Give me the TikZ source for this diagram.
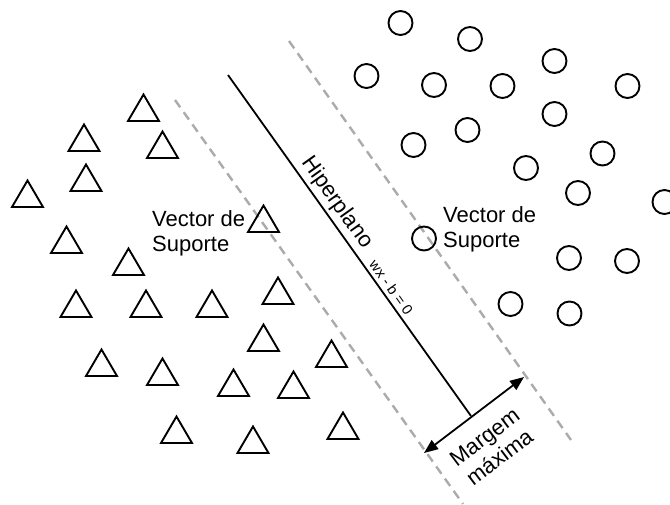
\documentclass[tikz,border=0pt]{standalone}
\usepackage{fontspec}
\setmainfont{Liberation Sans}
\usetikzlibrary{arrows.meta,calc}
\begin{document}
\begin{tikzpicture}[x=1pt,y=-1pt,
  pt/.style={draw=black,line width=1.9pt,line join=miter},
  margin/.style={draw=black!33,line width=2.4pt,dash pattern=on 9pt off 6pt},
  hyper/.style={draw=black,line width=1.8pt},
  lbl/.style={font=\fontsize{22}{25}\selectfont,inner sep=0pt,align=left},
  eqlbl/.style={font=\fontsize{14.5}{16}\selectfont},
  arr/.style={draw=black,line width=1.8pt,{Triangle[length=14pt,width=11pt]}-{Triangle[length=14pt,width=11pt]}}
]
\useasboundingbox (0,0) rectangle (670,504);
\clip (0,0) rectangle (670,504);
% margin lines
\coordinate (ltop) at (175,100);
\coordinate (lbot) at (463,504);
\coordinate (rtop) at (289,41);
\coordinate (rbot) at (571,440);
\draw[margin] (ltop) -- (lbot);
\draw[margin] (rtop) -- (rbot);
% hyperplane
\coordinate (htop) at (228,75);
\coordinate (hbot) at (471,416);
\draw[hyper] (htop) -- node[sloped,above,pos=0.40,font=\fontsize{22}{25}\selectfont] {Hiperplano}
  node[sloped,above,pos=0.64,eqlbl] {wx - b = 0} (hbot);
% margin arrow
\coordinate (aL) at (424,453);
\coordinate (aR) at (524,377);
\draw[arr] (aL) -- (aR);
\node[rotate=37,align=center,font=\fontsize{22}{25}\selectfont,inner sep=0pt] (mm) at (492,447) {Margem\\máxima};
% triangles (base centre)
\foreach \x/\y in {143.5/121,162.5/158,84/151,86/191,27.5/207,66.5/253,128.5/275,263.5/232,
  76/317,146/317,212/317,278/304,263.5/351,331.5/367,101.5/376,162.5/385,233.5/396,293.5/398,
  176.5/443,253/453,343/439}
  \draw[pt] (\x-15.5,\y) -- (\x+15.5,\y) -- (\x,\y-26.5) -- cycle;
% circles
\foreach \x/\y in {400.5/23,470/39,554.5/61,366.5/76,434/85,502.5/86,627.5/86,554.5/114,
  467.5/130,413.5/145,602.5/153.5,526/168,578/193,664.5/202,424/238.5,569/258,627/261,
  510.5/304,569.5/313.5}
  \draw[pt] (\x,\y) circle[radius=12];
% support vector labels (base = last line)
\node[lbl,anchor=base west] (vl) at (152,251) {Vector de\\Suporte};
\node[lbl,anchor=base west] (vr) at (443,247) {Vector de\\Suporte};
\end{tikzpicture}
\end{document}
